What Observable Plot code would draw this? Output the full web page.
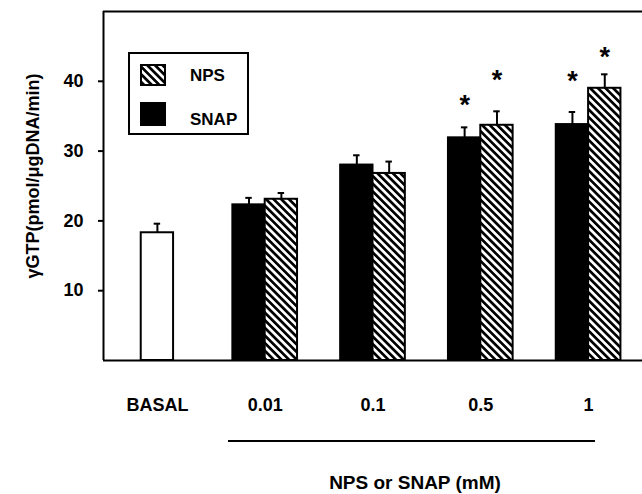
<!DOCTYPE html>
<html>
<head>
<meta charset="utf-8">
<script src="https://cdn.jsdelivr.net/npm/d3@7"></script>
<script src="https://cdn.jsdelivr.net/npm/@observablehq/plot@0.6"></script>
<style>
  html, body { margin: 0; padding: 0; background: #fff; }
  #wrap { position: relative; width: 642px; height: 494px; font-family: "Liberation Sans", Arial, sans-serif; }
  #overlay { position: absolute; left: 0; top: 0; pointer-events: none; }
</style>
</head>
<body>
<div id="wrap"></div>
<script>
// ---- data ----
const groups = ["BASAL", "0.01", "0.1", "0.5", "1"];
const concentrations = ["0.01", "0.1", "0.5", "1"];
const basalMean = 18.3;
const basalSem = 1.3;
const snapMean = [22.3, 28.0, 31.9, 33.8];
const snapSem = [1.0, 1.4, 1.5, 1.8];
const npsMean = [23.1, 26.8, 33.7, 39.0];
const npsSem = [0.9, 1.7, 2.0, 2.0];
const snapStar = [null, null, 37.6, 41.0];
const npsStar = [null, null, 41.1, 44.4];
const yTicks = [10, 20, 30, 40];
const yLabel = "γGTP(pmol/μgDNA/min)";
const xTitle = "NPS or SNAP (mM)";
const seriesNames = ["NPS", "SNAP"];

// ---- table ----
const offsets = {BASAL: [-0.15, 0.15], SNAP: [-0.3, 0], NPS: [0, 0.3]};
const rows = [{group: "BASAL", series: "BASAL", i: 0, mean: basalMean, sem: basalSem, star: null}];
concentrations.forEach((c, k) => {
  const i = groups.indexOf(c);
  rows.push({group: c, series: "SNAP", i, mean: snapMean[k], sem: snapSem[k], star: snapStar[k]});
  rows.push({group: c, series: "NPS", i, mean: npsMean[k], sem: npsSem[k], star: npsStar[k]});
});
rows.forEach(d => {
  d.x1 = d.i + offsets[d.series][0];
  d.x2 = d.i + offsets[d.series][1];
  d.xc = (d.x1 + d.x2) / 2;
  d.top = d.mean + d.sem;
});
const font = "Liberation Sans, Arial, sans-serif";

const chart = Plot.plot({
  width: 642,
  height: 494,
  marginTop: 11,
  marginBottom: 134,
  marginLeft: 103,
  marginRight: 0,
  style: {fontFamily: font, fontSize: "17px", background: "white", color: "black"},
  x: {type: "linear", domain: [-0.5, groups.length - 0.5], axis: null},
  y: {domain: [0, 50], axis: null},
  marks: [
    Plot.ruleX(rows, {x: "xc", y1: "mean", y2: "top", stroke: "black", strokeWidth: 2}),
    Plot.ruleY(rows, {x1: d => d.xc - 0.03, x2: d => d.xc + 0.03, y: "top", stroke: "black", strokeWidth: 2}),
    Plot.rectY(rows.filter(d => d.series === "BASAL"), {x1: "x1", x2: "x2", y1: 0, y2: "mean", fill: "white", stroke: "black", strokeWidth: 2}),
    Plot.rectY(rows.filter(d => d.series === "SNAP"), {x1: "x1", x2: "x2", y1: 0, y2: "mean", fill: "black", stroke: "black", strokeWidth: 2}),
    Plot.rectY(rows.filter(d => d.series === "NPS"), {x1: "x1", x2: "x2", y1: 0, y2: "mean", fill: "url(#hatch)", stroke: "black", strokeWidth: 2}),
    Plot.text(rows.filter(d => d.star != null), {x: "xc", y: "star", text: () => "*", fontSize: 27, fontWeight: "bold", dy: 7, fill: "black"}),
    Plot.ruleX([-0.5], {stroke: "black", strokeWidth: 2}),
    Plot.ruleY([0], {stroke: "black", strokeWidth: 2}),
    Plot.ruleY([50], {stroke: "black", strokeWidth: 2}),
    Plot.axisY({ticks: yTicks, tickSize: 5, tickPadding: 15, fontSize: 18, fontWeight: "bold", label: null, strokeWidth: 2}),
    Plot.axisX({ticks: d3.range(groups.length), tickFormat: i => groups[i], tickSize: 0, tickPadding: 38, fontSize: 18, fontWeight: "bold", label: null}),
    Plot.text([yLabel], {frameAnchor: "left", textAnchor: "middle", rotate: -90, dx: -70, dy: -10, fontSize: 18, fontWeight: "bold", fill: "black"})
  ]
});

// hatch pattern
const ns = "http://www.w3.org/2000/svg";
function makeHatch(svg, id) {
  const defs = document.createElementNS(ns, "defs");
  defs.innerHTML = `<pattern id="${id}" patternUnits="userSpaceOnUse" width="5.4" height="5.4" patternTransform="rotate(45)">
      <rect x="0" y="0" width="5.4" height="5.4" fill="white"/>
      <rect x="0" y="0" width="5.4" height="2.7" fill="black"/>
    </pattern>`;
  svg.insertBefore(defs, svg.firstChild);
}
makeHatch(chart, "hatch");
document.getElementById("wrap").appendChild(chart);

// overlay: legend, bracket line, x title
const ov = document.createElementNS(ns, "svg");
ov.setAttribute("id", "overlay");
ov.setAttribute("width", 642);
ov.setAttribute("height", 494);
ov.setAttribute("font-family", font);
makeHatch(ov, "hatch2");
const g = document.createElementNS(ns, "g");
g.innerHTML = `
  <rect x="129" y="53" width="119" height="81" fill="white" stroke="black" stroke-width="2"/>
  <rect x="141" y="65" width="24" height="20" fill="url(#hatch2)" stroke="black" stroke-width="2"/>
  <rect x="141" y="103" width="24" height="22" fill="black" stroke="black" stroke-width="2"/>
  <text x="190" y="75" font-size="17" font-weight="bold" dominant-baseline="central">${seriesNames[0]}</text>
  <text x="190" y="119" font-size="17" font-weight="bold" dominant-baseline="central">${seriesNames[1]}</text>
  <line x1="228" x2="595" y1="441" y2="441" stroke="black" stroke-width="2"/>
  <text x="415" y="482" font-size="19" font-weight="bold" text-anchor="middle" dominant-baseline="central">${xTitle}</text>
`;
ov.appendChild(g);
document.getElementById("wrap").appendChild(ov);
</script>
</body>
</html>
